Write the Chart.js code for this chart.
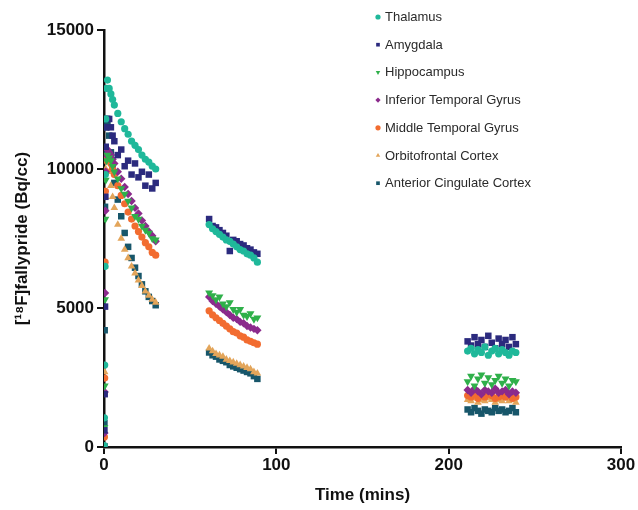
<!DOCTYPE html>
<html>
<head>
<meta charset="utf-8">
<script src="https://cdn.jsdelivr.net/npm/chart.js@4/dist/chart.umd.min.js"></script>
<style>
  html, body { margin: 0; padding: 0; background: #fff; }
  #wrap { width: 638px; height: 510px; }
</style>
</head>
<body>
<div id="wrap"><canvas id="tacChart" width="638" height="510"></canvas></div>
<script>
// frame mid-times (mins) for the three scans
var scan1Times = [0.1, 0.25, 0.4, 0.6, 0.8, 1, 1.5, 2, 3, 4, 5, 6, 8, 10, 12, 14, 16, 18, 20, 22, 24, 26, 28, 30];
var scan2Times = [61, 63, 65, 67, 69, 71, 73, 75, 77, 79, 81, 83, 85, 87, 89];
var scan3Times = [211, 213, 215, 217, 219, 221, 223, 225, 227, 229, 231, 233, 235, 237, 239];
var times = scan1Times.concat(scan2Times, scan3Times);

var regionNames = ['Thalamus', 'Amygdala', 'Hippocampus', 'Inferior Temporal Gyrus',
    'Middle Temporal Gyrus', 'Orbitofrontal Cortex', 'Anterior Cingulate Cortex'];

// Bq/cc, same order as times
var thalamus = [50, 1050, 2950, 6500, 9800, 11800, 12900, 13200, 12900, 12700, 12500, 12300, 12000, 11700, 11450, 11250, 11000, 10850, 10700, 10500, 10350, 10250, 10100, 10000,
    8000, 7850, 7750, 7650, 7550, 7450, 7400, 7300, 7200, 7100, 7050, 6950, 6900, 6800, 6650,
    3450, 3550, 3350, 3500, 3400, 3600, 3300, 3450, 3550, 3350, 3500, 3400, 3300, 3450, 3400];
var amygdala = [30, 600, 1900, 5050, 9000, 10800, 11500, 11800, 11800, 11500, 11200, 11000, 10500, 10700, 10100, 10300, 9800, 10200, 9700, 9900, 9400, 9800, 9300, 9500,
    8200, 7950, 7900, 7800, 7700, 7600, 7050, 7450, 7400, 7300, 7250, 7150, 7100, 7000, 6950,
    3800, 3650, 3950, 3700, 3850, 3600, 4000, 3750, 3550, 3900, 3700, 3850, 3600, 3950, 3700];
var hippocampus = [40, 700, 2200, 5300, 8200, 9600, 10300, 10500, 10400, 10300, 10100, 9900, 9650, 9300, 9100, 8850, 8600, 8300, 8200, 7950, 7800, 7700, 7500, 7450,
    5550, 5450, 5300, 5400, 5150, 5050, 5200, 4950, 4850, 4950, 4750, 4700, 4800, 4600, 4650,
    2350, 2550, 2200, 2450, 2600, 2300, 2500, 2250, 2400, 2550, 2300, 2450, 2200, 2400, 2350];
var infTemporal = [20, 500, 1980, 5540, 8500, 9900, 10500, 10700, 10600, 10500, 10350, 10200, 9900, 9650, 9350, 9100, 8850, 8600, 8400, 8150, 7950, 7750, 7600, 7400,
    5400, 5250, 5150, 5050, 4950, 4850, 4750, 4650, 4600, 4500, 4450, 4350, 4300, 4250, 4200,
    2050, 1950, 2100, 2000, 1900, 2050, 2000, 1950, 2100, 1950, 2000, 2050, 1900, 2000, 1950];
var midTemporal = [30, 360, 2480, 6650, 9200, 9900, 10300, 10400, 10300, 10200, 10000, 9800, 9400, 9050, 8750, 8450, 8200, 7950, 7750, 7550, 7350, 7200, 7000, 6900,
    4900, 4750, 4650, 4550, 4450, 4350, 4250, 4150, 4100, 4000, 3950, 3850, 3800, 3750, 3700,
    1850, 1800, 1900, 1750, 1850, 1800, 1900, 1850, 1750, 1800, 1850, 1800, 1900, 1750, 1800];
var orbitofrontal = [10, 430, 2700, 6500, 9000, 10000, 10500, 10300, 9900, 9400, 9000, 8600, 8000, 7500, 7100, 6800, 6500, 6250, 6000, 5800, 5600, 5450, 5300, 5200,
    3550, 3450, 3350, 3300, 3250, 3150, 3100, 3050, 3000, 2950, 2900, 2850, 2800, 2700, 2650,
    1700, 1650, 1750, 1600, 1700, 1650, 1750, 1700, 1600, 1700, 1650, 1750, 1650, 1700, 1600];
var antCingulate = [0, 860, 4200, 8640, 10600, 11500, 11800, 11700, 11200, 10600, 10000, 9500, 8900, 8300, 7700, 7200, 6800, 6450, 6150, 5850, 5600, 5400, 5250, 5100,
    3400, 3300, 3250, 3150, 3100, 3050, 2950, 2900, 2850, 2800, 2750, 2700, 2650, 2550, 2450,
    1350, 1250, 1400, 1300, 1200, 1350, 1300, 1250, 1400, 1300, 1350, 1250, 1300, 1400, 1250];

var xTicks = [0, 100, 200, 300];
var yTicks = [0, 5000, 10000, 15000];

var seriesValues = [thalamus, amygdala, hippocampus, infTemporal, midTemporal, orbitofrontal, antCingulate];
var colors = ['#1fb89a', '#2b2a7e', '#2fb04a', '#8b2a8c', '#f26c30', '#e3a55a', '#17566a'];
var styles = ['circle', 'rect', 'triangle', 'rectRot', 'circle', 'triangle', 'rect'];
var rotations = [0, 0, 180, 0, 0, 0, 0];
var radii = [3.6, 4.6, 4.6, 4.2, 3.6, 4.4, 4.6];

function toPoints(vals) {
    return vals.map(function(v, i) { return { x: times[i], y: v }; });
}

var datasets = regionNames.map(function(name, i) {
    return {
        label: name,
        data: toPoints(seriesValues[i]),
        backgroundColor: colors[i],
        borderColor: colors[i],
        borderWidth: 0,
        pointStyle: styles[i],
        pointRotation: rotations[i],
        pointRadius: radii[i],
        showLine: false
    };
});

var fontFamily = '"Liberation Sans", Arial, sans-serif';

// legend drawn inside the top right corner, like the original figure
var cornerLegend = {
    id: 'cornerLegend',
    afterDraw: function(chart) {
        var ctx = chart.ctx;
        ctx.save();
        ctx.font = '13px ' + fontFamily;
        ctx.textBaseline = 'middle';
        chart.data.datasets.forEach(function(ds, i) {
            var y = 17 + i * 27.7;
            ctx.fillStyle = ds.backgroundColor;
            Chart.helpers.drawPoint(ctx, {
                pointStyle: ds.pointStyle,
                rotation: ds.pointRotation,
                radius: 2.6,
                borderWidth: 0
            }, 378, y);
            ctx.fillStyle = '#2a2a2a';
            ctx.fillText(ds.label, 385, y + 0.5);
        });
        ctx.restore();
    }
};

var ctx = document.getElementById('tacChart').getContext('2d');
var tacChart = new Chart(ctx, {
    type: 'scatter',
    data: { datasets: datasets },
    options: {
        responsive: false,
        animation: false,
        layout: { padding: { top: 30, right: 17, left: 8, bottom: 0 } },
        plugins: {
            legend: { display: false },
            tooltip: { enabled: false }
        },
        scales: {
            x: {
                type: 'linear',
                min: 0,
                max: 300,
                afterBuildTicks: function(scale) {
                    scale.ticks = xTicks.map(function(v) { return { value: v }; });
                },
                afterFit: function(scale) { scale.height = 63; },
                border: { display: true, color: '#111', width: 2.5 },
                grid: { drawOnChartArea: false, drawTicks: true, tickLength: 7, color: '#111', lineWidth: 2 },
                ticks: {
                    color: '#111',
                    padding: 1,
                    font: { family: fontFamily, size: 17, weight: 'bold' }
                },
                title: {
                    display: true,
                    text: 'Time (mins)',
                    color: '#111',
                    padding: { top: 4 },
                    font: { family: fontFamily, size: 17, weight: 'bold' }
                }
            },
            y: {
                type: 'linear',
                min: 0,
                max: 15000,
                afterBuildTicks: function(scale) {
                    scale.ticks = yTicks.map(function(v) { return { value: v }; });
                },
                afterFit: function(scale) { scale.width = 96; },
                border: { display: true, color: '#111', width: 2.5 },
                grid: { drawOnChartArea: false, drawTicks: true, tickLength: 7, color: '#111', lineWidth: 2 },
                ticks: {
                    color: '#111',
                    padding: 3,
                    callback: function(v) { return String(v); },
                    font: { family: fontFamily, size: 17, weight: 'bold' }
                },
                title: {
                    display: true,
                    text: '[\u00B9\u2078F]fallypride (Bq/cc)',
                    color: '#111',
                    padding: { bottom: 2 },
                    font: { family: fontFamily, size: 17, weight: 'bold' }
                }
            }
        }
    },
    plugins: [cornerLegend]
});
</script>
</body>
</html>
